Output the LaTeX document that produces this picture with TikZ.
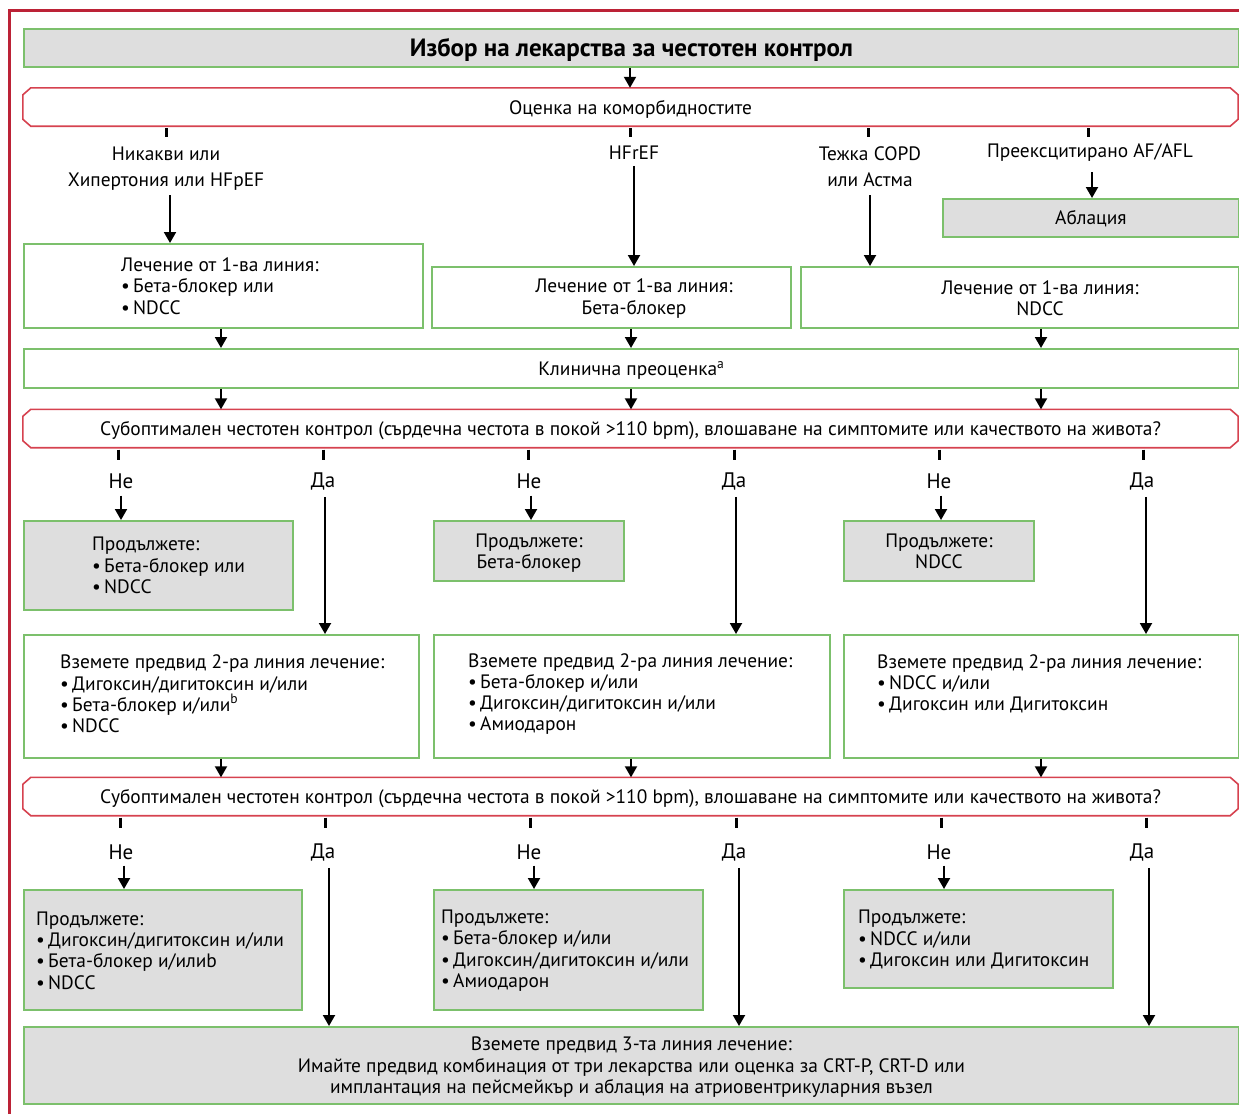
\documentclass[tikz,border=0pt]{standalone}
\usepackage{fontspec}
\setmainfont{PT Sans}
\usetikzlibrary{arrows.meta,calc}
\definecolor{boxgreen}{HTML}{7CC06C}
\definecolor{boxgray}{HTML}{DEDEDE}
\definecolor{bannerred}{HTML}{D6424F}
\definecolor{framered}{HTML}{BC2236}
% outline with cut corners for the question banners
\newcommand\chamferbox[1]{%
  \draw[bannerline] ([xshift=8pt]#1.north west) -- ([xshift=-8pt]#1.north east)
    -- ([yshift=-7pt]#1.north east) -- ([yshift=7pt]#1.south east)
    -- ([xshift=-8pt]#1.south east) -- ([xshift=8pt]#1.south west)
    -- ([yshift=7pt]#1.south west) -- ([yshift=-7pt]#1.north west) -- cycle;}
\begin{document}
\begin{tikzpicture}[x=1pt,y=-1pt,
  txt/.style={font=\fontsize{19.4}{21.3}\selectfont},
  box/.style={draw=boxgreen,line width=1.8pt,fill=white,inner sep=0pt,anchor=north west,txt},
  graybox/.style={box,fill=boxgray},
  oneline/.style={text depth=0pt},
  banner/.style={inner sep=0pt,txt,oneline,minimum width=1215pt,minimum height=38pt},
  bannerline/.style={draw=bannerred,line width=1.6pt},
  arr/.style={line width=2pt,-{Triangle[width=12pt,length=11pt]}},
  tick/.style={line width=3pt},
  lab/.style={txt,align=center,inner sep=0pt},
  blist/.style={txt,align=left,inner sep=0pt,anchor=west},
  yn/.style={font=\fontsize{21}{23}\selectfont,inner sep=0pt},
]
\useasboundingbox (0,0) rectangle (1239,1114);

% outer frame
\draw[framered,line width=3pt] (9,1114) -- (9,10) -- (1239,10);

% title and comorbidity assessment
\node[graybox,oneline,minimum width=1215pt,minimum height=38pt,font=\fontsize{25}{28}\selectfont\bfseries] (title) at (23,28) {Избор на лекарства за честотен контрол};
\node[banner] (q0) at (630.5,107) {Оценка на коморбидностите};
\chamferbox{q0}
\draw[arr] (title.south -| 630,0) -- (q0.north -| 630,0);

% comorbidity branches
\node[lab,text depth=0pt] (l1) at (166,167) {Никакви или\\[5pt]Хипертония или HFpEF};
\node[lab] (l2) at (634,153) {HFrEF};
\node[lab] (l3) at (870,167) {Тежка COPD\\[5pt]или Астма};
\node[lab] (l4) at (1090,153) {Преексцитирано AF/AFL};
\foreach \n/\dx in {l1/0,l2/-4,l3/-2,l4/-2}
  \draw[tick] ([xshift=\dx pt]\n.north |- q0.south) ++(0,2) -- ++(0,9);

\node[graybox,oneline,minimum width=296pt,minimum height=38pt] (abl) at (942,198) {Аблация};
\node[box,minimum width=399pt,minimum height=84pt] (b1) at (23,243) {};
\node[box,minimum width=359pt,minimum height=61pt] (b2) at (431,266) {};
\node[box,minimum width=438pt,minimum height=61pt] (b3) at (800,266) {};
\node[blist] (b1t) at (121,286) {Лечение от 1-ва линия:\\•\,Бета-блокер или\\•\,NDCC};
\node[lab] (b2t) at (634,298.5) {Лечение от 1-ва линия:\\Бета-блокер};
\node[lab] (b3t) at (1040,298.5) {Лечение от 1-ва линия:\\NDCC};

\draw[arr] ([xshift=4pt,yshift=-8pt]l1.south) -- ([xshift=4pt]l1.south |- b1.north);
\draw[arr] ([yshift=-6pt]l2.south) -- (l2.south |- b2.north);
\draw[arr] ([yshift=-8pt]l3.south) -- (l3.south |- b3.north);
\draw[arr] ([xshift=2pt,yshift=-10pt]l4.south) -- ([xshift=2pt]l4.south |- abl.north);

% clinical reassessment
\node[box,oneline,minimum width=1215pt,minimum height=39pt] (kl) at (23,348) {Клинична преоценка\textsuperscript{a}};
\foreach \x/\b in {221/b1,631/b2,1041/b3}
  \draw[arr] (\b.south -| \x,0) -- (kl.north -| \x,0);

% first rate-control question
\node[banner] (q1) at (630.5,428.5) {Субоптимален честотен контрол (сърдечна честота в покой >110 bpm), влошаване на симптомите или качеството на живота?};
\chamferbox{q1}
\foreach \x in {221,631,1041}
  \draw[arr] (kl.south -| \x,0) -- (q1.north -| \x,0);

\node[yn] (n1) at (121,481) {Не};
\node[yn] (y1) at (323,481) {Да};
\node[yn] (n2) at (529,481) {Не};
\node[yn] (y2) at (734,481) {Да};
\node[yn] (n3) at (939,481) {Не};
\node[yn] (y3) at (1142,481) {Да};
\foreach \n/\dx in {n1/-3,y1/0,n2/-1,y2/0,n3/0,y3/1}
  \draw[tick] ([xshift=\dx pt]\n.north |- q1.south) ++(0,2) -- ++(0,10);

\node[graybox,minimum width=269pt,minimum height=89pt] (c1) at (23,520) {};
\node[blist] (c1t) at (92,565.5) {Продължете:\\•\,Бета-блокер или\\•\,NDCC};
\node[graybox,oneline,minimum width=190pt,minimum height=60pt,align=center] (c2) at (433,520) {Продължете:\\Бета-блокер};
\node[graybox,oneline,minimum width=190pt,minimum height=60pt,align=center] (c3) at (843,520) {Продължете:\\NDCC};

\node[box,minimum width=395pt,minimum height=123pt] (s1) at (23,634) {};
\node[box,minimum width=396pt,minimum height=123pt] (s2) at (433,634) {};
\node[box,minimum width=395pt,minimum height=123pt] (s3) at (843,634) {};
\node[blist] (s1t) at (60,694) {Вземете предвид 2-ра линия лечение:\\•\,Дигоксин/дигитоксин и/или\\•\,Бета-блокер и/или\textsuperscript{b}\\•\,NDCC};
\node[blist] (s2t) at (468,694) {Вземете предвид 2-ра линия лечение:\\•\,Бета-блокер и/или\\•\,Дигоксин/дигитоксин и/или\\•\,Амиодарон};
\node[blist] (s3t) at (877,684) {Вземете предвид 2-ра линия лечение:\\•\,NDCC и/или\\•\,Дигоксин или Дигитоксин};

\foreach \n/\b/\dx in {n1/c1/0,n2/c2/2,n3/c3/2}
  \draw[arr] ([xshift=\dx pt,yshift=-7pt]\n.south) -- ([xshift=\dx pt]\n.south |- \b.north);
\foreach \n/\b/\dx in {y1/s1/2,y2/s2/2,y3/s3/4}
  \draw[arr] ([xshift=\dx pt,yshift=-7pt]\n.south) -- ([xshift=\dx pt]\n.south |- \b.north);

% second rate-control question
\node[banner] (q2) at (630.5,796.5) {Субоптимален честотен контрол (сърдечна честота в покой >110 bpm), влошаване на симптомите или качеството на живота?};
\chamferbox{q2}
\foreach \x/\b in {221/s1,631/s2,1041/s3}
  \draw[arr] (\b.south -| \x,0) -- (q2.north -| \x,0);

\node[yn] (n4) at (121,852) {Не};
\node[yn] (y4) at (323,852) {Да};
\node[yn] (n5) at (529,852) {Не};
\node[yn] (y5) at (734,852) {Да};
\node[yn] (n6) at (939,852) {Не};
\node[yn] (y6) at (1142,852) {Да};
\foreach \n/\dx in {n4/-1,y4/2,n5/1,y5/2,n6/2,y6/4}
  \draw[tick] ([xshift=\dx pt]\n.north |- q2.south) ++(0,2) -- ++(0,10);

\node[graybox,minimum width=278pt,minimum height=120pt] (d1) at (23,889) {};
\node[graybox,minimum width=269pt,minimum height=120pt] (d2) at (433,889) {};
\node[graybox,minimum width=269pt,minimum height=98pt] (d3) at (843,889) {};
\node[blist] (d1t) at (36,950.5) {Продължете:\\•\,Дигоксин/дигитоксин и/или\\•\,Бета-блокер и/илиb\\•\,NDCC};
\node[blist] (d2t) at (441,950.5) {Продължете:\\•\,Бета-блокер и/или\\•\,Дигоксин/дигитоксин и/или\\•\,Амиодарон};
\node[blist] (d3t) at (858,939.5) {Продължете:\\•\,NDCC и/или\\•\,Дигоксин или Дигитоксин};

% third-line treatment
\node[graybox,oneline,minimum width=1215pt,minimum height=77pt,align=center] (f) at (23,1026) {Вземете предвид 3-та линия лечение:\\Имайте предвид комбинация от три лекарства или оценка за CRT-P, CRT-D или\\имплантация на пейсмейкър и аблация на атриовентрикуларния възел};

\foreach \n/\b/\dx in {n4/d1/3,n5/d2/5,n6/d3/5}
  \draw[arr] ([xshift=\dx pt,yshift=-6pt]\n.south) -- ([xshift=\dx pt]\n.south |- \b.north);
\foreach \n/\dx in {y4/6,y5/5,y6/7}
  \draw[arr] ([xshift=\dx pt,yshift=-7pt]\n.south) -- ([xshift=\dx pt]\n.south |- f.north);
\end{tikzpicture}
\end{document}
